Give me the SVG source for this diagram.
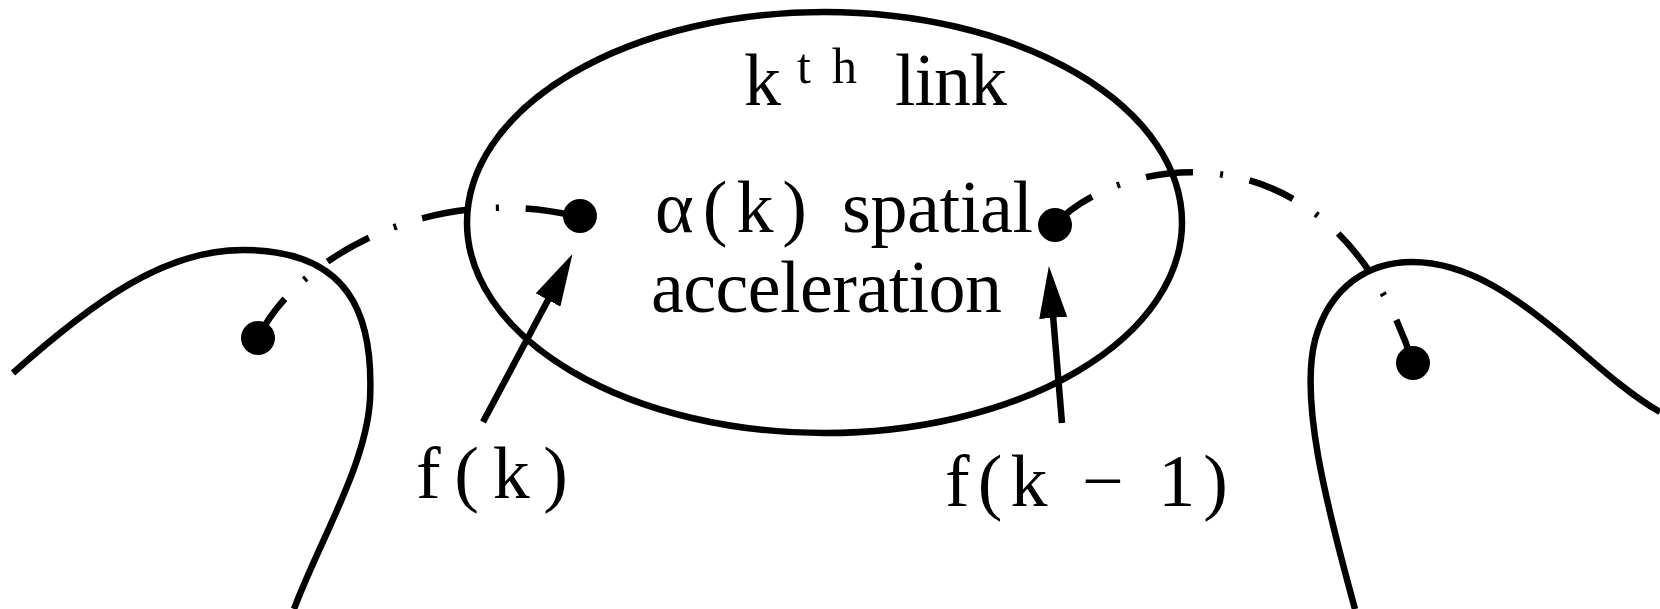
<svg xmlns="http://www.w3.org/2000/svg" width="1660" height="609" viewBox="0 0 1660 609">
<style>
.ln{fill:none;stroke:#000;stroke-width:6.5;stroke-linecap:butt}
.dd{fill:none;stroke:#000;stroke-width:6.5;stroke-dasharray:46.5 26 3 26}
.ar{fill:none;stroke:#000;stroke-width:6.5;marker-end:url(#ah)}
.dot{fill:#000}
.t{font-family:"Liberation Serif","Times New Roman",serif;font-size:74px;fill:#000}
.sup{font-size:50px}
</style>
<defs>
<marker id="ah" markerUnits="userSpaceOnUse" viewBox="0 0 52 28" markerWidth="52" markerHeight="28" refX="11" refY="14" orient="auto">
<path d="M0,0 L52,14 L0,28 Z" fill="#000"/>
</marker>
</defs>
<rect width="1660" height="609" fill="#fff"/>
<g id="left-link">
<path class="ln" d="M13,373 C95,300 165,250 243,250 C350,250 374,315 370,400 C366,465 320,540 294,609"/>
<circle class="dot" cx="258" cy="338" r="17"/>
</g>
<g id="right-link">
<path class="ln" d="M1355,609 C1325,500 1300,400 1315,340 C1330,285 1370,262 1412,262 C1470,262 1520,300 1570,342 C1600,368 1630,395 1660,412"/>
<circle class="dot" cx="1413" cy="363" r="17"/>
</g>
<g id="kth-link">
<ellipse class="ln" cx="824.5" cy="222.5" rx="357.5" ry="210.5"/>
<circle class="dot" cx="580" cy="216" r="17"/>
<circle class="dot" cx="1055" cy="225" r="17"/>
<text class="t" x="744" y="105">k<tspan class="sup" x="797" y="83" textLength="60" lengthAdjust="spacing">th</tspan><tspan x="895" y="105" textLength="112" lengthAdjust="spacing">link</tspan></text>
<text class="t" x="655" y="232" textLength="152" lengthAdjust="spacing">α(k)</text>
<text class="t" x="842" y="232" textLength="191" lengthAdjust="spacing">spatial</text>
<text class="t" x="651" y="312" textLength="351" lengthAdjust="spacing">acceleration</text>
</g>
<g id="label-fk">
<text class="t" x="416" y="498" textLength="152" lengthAdjust="spacing">f(k)</text>
</g>
<g id="label-fk1">
<text class="t" x="945" y="506" textLength="283" lengthAdjust="spacing">f(k − 1)</text>
</g>
<g id="connectors">
<path class="dd" pathLength="357" d="M258,338 C295,260 430,180 579,217"/>
<path class="dd" pathLength="462" style="stroke-dasharray:47 27 3 27" d="M1055,225 C1110,160 1330,110 1413,363"/>
<line class="ar" x1="483" y1="422" x2="553.2" y2="290.3"/>
<line class="ar" x1="1062" y1="423" x2="1052.3" y2="306.9"/>
</g>
</svg>
